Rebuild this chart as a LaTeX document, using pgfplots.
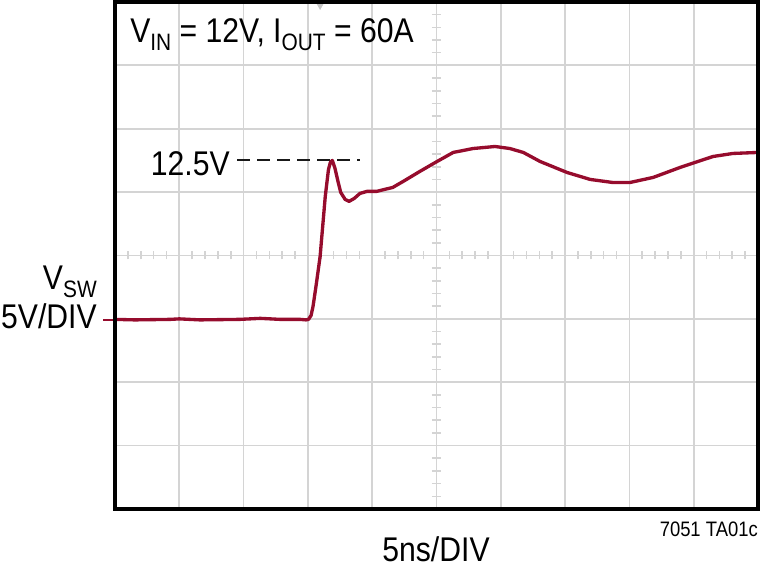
\documentclass[border=0pt]{standalone}
\usepackage{fontspec}
\setmainfont[FakeStretch=0.88]{Liberation Sans}
\usepackage{pgfplots}
\pgfplotsset{compat=1.18}
\definecolor{trace}{RGB}{150,12,45}
\definecolor{gridc}{RGB}{212,212,212}
\newcommand{\mainsz}{\fontsize{25.7pt}{28pt}\selectfont}
\newcommand{\subsz}{\fontsize{17.8pt}{19pt}\selectfont}
\begin{document}
\begin{tikzpicture}
\useasboundingbox (-86.25pt,-45.75pt) rectangle (483.75pt,381.75pt);
\begin{axis}[
  scale only axis,
  width=482.25pt, height=380.25pt,
  xmin=0, xmax=10, ymin=-15, ymax=25,
  xtick={0,1,...,10}, ytick={-15,-10,...,25},
  xticklabels={}, yticklabels={},
  major tick length=0pt,
  grid=major,
  major grid style={gridc, line width=1.3pt},
  axis line style={draw=none},
  clip=true,
]
\pgfplotsinvokeforeach{0.2,0.4,...,9.9}{
  \draw[gridc, line width=1.2pt] ([yshift=-3pt]axis cs:#1,5) -- ([yshift=3pt]axis cs:#1,5);
}
\pgfplotsinvokeforeach{-14,-13,...,24}{
  \draw[gridc, line width=1.2pt] ([xshift=-3.5pt]axis cs:5,#1) -- ([xshift=3.5pt]axis cs:5,#1);
}
\fill[gray!45] (axis cs:3.12,25) -- (axis cs:3.26,25) -- ([yshift=-6pt]axis cs:3.19,25) -- cycle;
\draw[black!90, line width=1.5pt, dash pattern=on 9.5pt off 5.5pt] (axis cs:1.9,12.5) -- (axis cs:3.81,12.5);
\addplot[trace, line width=2.5pt, line join=round] coordinates {
(0,-0.04) (0.31,-0.08) (0.86,-0.04) (1.0,0.0) (1.32,-0.08) (1.94,-0.04) (2.26,0.04) (2.57,-0.04) (2.88,-0.04) (2.97,-0.08) (3.01,-0.04) (3.05,0.28) (3.08,0.99) (3.13,2.72) (3.19,4.93) (3.27,9.66) (3.32,11.79) (3.35,12.35) (3.38,12.5) (3.42,11.9) (3.47,10.8) (3.51,9.98) (3.58,9.42) (3.64,9.27) (3.72,9.5) (3.81,9.9) (3.92,10.06) (4.07,10.06) (4.32,10.37) (4.48,10.84) (4.74,11.63) (5.01,12.42) (5.26,13.13) (5.57,13.44) (5.91,13.6) (6.14,13.44) (6.35,13.13) (6.61,12.42) (7.03,11.55) (7.39,11.0) (7.74,10.76) (8.01,10.76) (8.37,11.16) (8.79,11.95) (9.30,12.81) (9.61,13.05) (10.0,13.13)
};
\end{axis}
\draw[black, line width=2.3pt] (0pt,0pt) rectangle (482.25pt,380.25pt);
\node[anchor=base west, inner sep=0pt] at (11.25pt,349.5pt) {\mainsz V\raisebox{-6pt}{\subsz IN} = 12V, I\raisebox{-6pt}{\subsz OUT} = 60A};
\node[anchor=base east, inner sep=0pt] at (86.25pt,249.75pt) {\mainsz 12.5V};
\node[anchor=base east, inner sep=0pt] at (-13.5pt,164.25pt) {\mainsz V\raisebox{-6pt}{\subsz SW}};
\node[anchor=base east, inner sep=0pt] at (-13.5pt,135pt) {\mainsz 5V/DIV};
\draw[trace, line width=1.1pt] (-9pt,141.75pt) -- (-1.8pt,141.75pt);
\node[anchor=base, inner sep=0pt] at (240.75pt,-39.75pt) {\mainsz 5ns/DIV};
\node[anchor=base east, inner sep=0pt] at (482.25pt,-21pt) {\fontsize{15.7pt}{17pt}\selectfont 7051 TA01c};
\end{tikzpicture}
\end{document}
